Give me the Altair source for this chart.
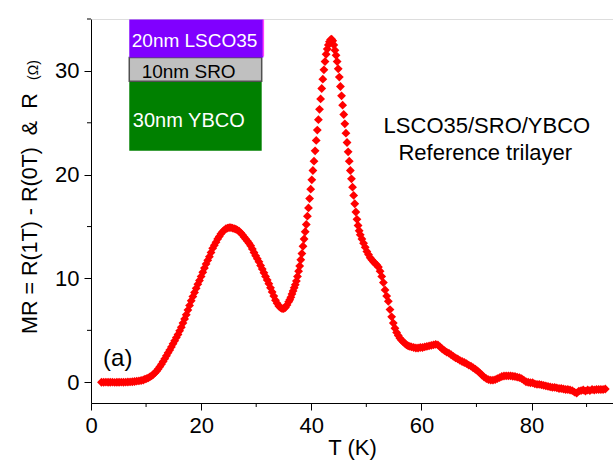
import altair as alt
import pandas as pd

# Magnetoresistance readings, (temperature in K, MR in ohm)
flat_low = [
    (1.9, 0.0), (2.3, 0.0), (2.7, 0.01), (3.1, 0.0), (3.5, 0.0), (3.9, 0.01),
    (4.3, -0.02), (4.7, 0.0), (5.1, 0.0), (5.5, 0.01), (5.9, 0.0), (6.3, 0.01),
    (6.7, 0.02), (7.1, 0.03), (7.5, 0.05), (7.9, 0.07), (8.3, 0.1), (8.7, 0.13),
    (9.1, 0.17), (9.5, 0.22), (9.8, 0.3),
]
first_peak = [
    (10.1, 0.35), (10.4, 0.42), (10.7, 0.52), (11.0, 0.62), (11.3, 0.75), (11.6, 0.9),
    (11.9, 1.07), (12.2, 1.27), (12.5, 1.5), (12.8, 1.74), (13.1, 2.0), (13.4, 2.27),
    (13.7, 2.55), (14.0, 2.83), (14.3, 3.1), (14.6, 3.4), (14.9, 3.7), (15.2, 4.0),
    (15.5, 4.3), (15.8, 4.6), (16.1, 4.95), (16.4, 5.3), (16.7, 5.7), (17.0, 6.1),
    (17.3, 6.5), (17.6, 6.95), (17.9, 7.4), (18.2, 7.85), (18.5, 8.25), (18.8, 8.65),
    (19.1, 9.05), (19.4, 9.45), (19.7, 9.8), (20.0, 10.2), (20.3, 10.6), (20.6, 11.0),
    (20.9, 11.4), (21.2, 11.75), (21.5, 12.1), (21.8, 12.5), (22.1, 12.9), (22.4, 13.2),
    (22.7, 13.5), (23.0, 13.8), (23.3, 14.05), (23.6, 14.3), (23.9, 14.5), (24.2, 14.65),
    (24.5, 14.8), (24.8, 14.85), (25.1, 14.9), (25.4, 14.9), (25.7, 14.85), (26.0, 14.8),
    (26.3, 14.75), (26.6, 14.65), (26.9, 14.55), (27.2, 14.4), (27.5, 14.2), (27.8, 14.0),
    (28.1, 13.8), (28.4, 13.6), (28.7, 13.4), (29.0, 13.15), (29.3, 12.85), (29.6, 12.5),
    (29.9, 12.2), (30.2, 11.9), (30.5, 11.6), (30.8, 11.25), (31.1, 10.9), (31.4, 10.55),
    (31.7, 10.2), (32.0, 9.85), (32.3, 9.5), (32.6, 9.1), (32.9, 8.7), (33.2, 8.3),
    (33.5, 7.9), (33.8, 7.6), (34.1, 7.35), (34.4, 7.2), (34.7, 7.1), (35.0, 7.1),
    (35.3, 7.2), (35.6, 7.45), (35.9, 7.75),
]
main_peak = [
    (36.1, 7.95), (36.3, 8.2), (36.5, 8.5), (36.7, 8.8), (36.9, 9.1), (37.1, 9.4),
    (37.3, 9.75), (37.5, 10.2), (37.7, 10.7), (37.9, 11.2), (38.1, 11.8), (38.3, 12.4),
    (38.5, 13.1), (38.7, 13.8), (38.9, 14.5), (39.1, 15.2), (39.3, 16.0), (39.5, 16.8),
    (39.7, 17.7), (39.9, 18.6), (40.1, 19.5), (40.3, 20.4), (40.5, 21.3), (40.7, 22.3),
    (40.9, 23.3), (41.1, 24.3), (41.3, 25.3), (41.5, 26.3), (41.7, 27.3), (41.9, 28.3),
    (42.1, 29.2), (42.3, 30.1), (42.5, 30.9), (42.7, 31.6), (42.9, 32.1), (43.1, 32.5),
    (43.3, 32.8), (43.5, 33.0), (43.7, 33.05), (43.9, 32.9), (44.1, 32.5), (44.3, 32.0),
    (44.5, 31.5), (44.7, 30.9), (44.9, 30.2), (45.1, 29.4), (45.3, 28.5), (45.5, 27.6),
    (45.7, 26.7), (45.9, 25.8), (46.1, 24.9), (46.3, 24.0), (46.5, 23.1), (46.7, 22.2),
    (46.9, 21.3), (47.1, 20.4), (47.3, 19.6), (47.5, 18.8), (47.7, 18.0), (47.9, 17.2),
    (48.1, 16.4), (48.3, 15.7), (48.5, 15.1), (48.7, 14.6), (48.9, 14.2),
]
shoulder = [
    (49.2, 13.8), (49.5, 13.4), (49.8, 13.0), (50.1, 12.6), (50.4, 12.3), (50.7, 12.0),
    (51.0, 11.8), (51.3, 11.6), (51.6, 11.45), (51.9, 11.3), (52.2, 11.1), (52.5, 10.7),
    (52.8, 10.2), (53.1, 9.6), (53.4, 8.9), (53.7, 8.3), (54.0, 7.8), (54.3, 7.0),
    (54.6, 6.3), (54.9, 5.7), (55.2, 5.2), (55.5, 4.8), (55.8, 4.5), (56.1, 4.25),
    (56.4, 4.05), (56.7, 3.9), (57.0, 3.75), (57.3, 3.6), (57.6, 3.5), (57.9, 3.45),
    (58.2, 3.4),
]
high_tail = [
    (58.6, 3.35), (59.0, 3.3), (59.4, 3.3), (59.8, 3.35), (60.2, 3.35), (60.6, 3.4),
    (61.0, 3.45), (61.4, 3.5), (61.8, 3.55), (62.2, 3.6), (62.6, 3.65), (63.0, 3.6),
    (63.4, 3.4), (63.8, 3.2), (64.2, 3.05), (64.6, 2.9), (65.0, 2.8), (65.4, 2.65),
    (65.8, 2.5), (66.2, 2.35), (66.6, 2.25), (67.0, 2.1), (67.4, 2.0), (67.8, 1.9),
    (68.2, 1.8), (68.6, 1.65), (69.0, 1.55), (69.4, 1.4), (69.8, 1.25), (70.2, 1.1),
    (70.6, 0.9), (71.0, 0.7), (71.4, 0.5), (71.8, 0.35), (72.2, 0.25), (72.6, 0.2),
    (73.0, 0.2), (73.4, 0.25), (73.8, 0.35), (74.2, 0.45), (74.6, 0.55), (75.0, 0.6),
    (75.4, 0.62), (75.8, 0.62), (76.2, 0.62), (76.6, 0.58), (77.0, 0.55), (77.4, 0.5),
    (77.8, 0.45), (78.2, 0.35), (78.6, 0.2), (79.0, 0.05), (79.4, 0.0), (79.8, -0.05),
    (80.2, -0.05), (80.6, -0.15), (81.0, -0.2), (81.4, -0.2), (81.8, -0.25), (82.2, -0.3),
    (82.6, -0.35), (83.0, -0.4), (83.4, -0.45), (83.8, -0.5), (84.2, -0.5), (84.6, -0.55),
    (85.0, -0.6), (85.4, -0.6), (85.8, -0.65), (86.2, -0.7), (86.6, -0.7), (87.0, -0.75),
    (87.4, -0.8), (87.8, -0.95), (88.2, -1.05), (88.6, -0.85), (89.0, -0.8), (89.4, -0.75),
    (89.8, -0.85), (90.2, -0.75), (90.6, -0.8), (91.0, -0.7), (91.4, -0.75), (91.8, -0.7),
    (92.2, -0.7), (92.6, -0.7), (93.0, -0.7), (93.4, -0.65),
]

major_x = [0, 20, 40, 60, 80]
minor_x = [10, 30, 50, 70, 90]
major_y = [0, 10, 20, 30]
minor_y = [5, 15, 25, 35]

FONT = "Liberation Sans"
W, H = 522, 384

points = flat_low + first_peak + main_peak + shoulder + high_tail
df = pd.DataFrame(points, columns=["T", "MR"])

x_scale = alt.Scale(domain=[0, 94.8], nice=False, zero=False)
y_scale = alt.Scale(domain=[-2, 35], nice=False, zero=False)

axis_style = dict(
    grid=False, domainColor="black", domainWidth=1, tickColor="black", tickWidth=1,
    tickSize=7, labelFont=FONT, labelFontSize=22, labelColor="black", labelPadding=5,
    labelOverlap=False, labelFlush=False,
)
x_axis = alt.Axis(values=major_x, title="T (K)", titleFont=FONT, titleFontSize=22,
                  titleFontWeight="normal", titleColor="black", titlePadding=1, **axis_style)
y_axis = alt.Axis(values=major_y, title=None, **axis_style)


def xq(field):
    return alt.X(field, type="quantitative", scale=x_scale, axis=x_axis)


def yq(field):
    return alt.Y(field, type="quantitative", scale=y_scale, axis=y_axis)


scatter = alt.Chart(df).mark_point(
    shape="diamond", filled=True, size=78, color="#ff0000", opacity=1, strokeWidth=0
).encode(x=xq("T"), y=yq("MR"))

# minor ticks
minor_x_ticks = alt.Chart(pd.DataFrame({"T": minor_x})).mark_rule(
    color="black", strokeWidth=1
).encode(x=xq("T"), y=alt.value(H), y2=alt.value(H + 4))
minor_y_ticks = alt.Chart(pd.DataFrame({"MR": minor_y})).mark_rule(
    color="black", strokeWidth=1
).encode(y=yq("MR"), x=alt.value(0), x2=alt.value(-4))


# stack diagram of the trilayer
def layer_box(t0, t1, m0, m1, fill, stroke=None):
    mark = dict(fill=fill, opacity=1)
    if stroke:
        mark.update(stroke=stroke, strokeWidth=1.5)
    return alt.Chart(pd.DataFrame({"T": [t0], "T2": [t1], "MR": [m0], "MR2": [m1]})).mark_rect(
        **mark
    ).encode(x=xq("T"), x2="T2", y=yq("MR"), y2="MR2")


box_lsco = layer_box(6.95, 31.3, 31.3, 34.95, "#8000ff")
box_edge = alt.Chart(pd.DataFrame({"T": [31.3], "MR": [31.4], "MR2": [34.95]})).mark_rule(
    color="#ff40ff", strokeWidth=1.5
).encode(x=xq("T"), y=yq("MR"), y2="MR2")
box_sro = layer_box(6.95, 31.0, 29.0, 31.3, "#c0c0c0", stroke="#505050")
box_ybco = layer_box(6.95, 31.0, 22.3, 29.0, "#008000")


def label(t, mr, text, color="black", size=21, align="left"):
    return alt.Chart(pd.DataFrame({"T": [t], "MR": [mr], "label": [text]})).mark_text(
        font=FONT, fontSize=size, color=color, align=align, baseline="alphabetic"
    ).encode(x=xq("T"), y=yq("MR"), text="label:N")


texts = [
    label(7.4, 32.3, "20nm LSCO35", color="white", size=19),
    label(9.2, 29.3, "10nm SRO", color="black", size=19),
    label(7.6, 24.6, "30nm YBCO", color="white", size=20),
    label(71.9, 24.0, "LSCO35/SRO/YBCO", size=22, align="center"),
    label(71.6, 21.4, "Reference trilayer", size=22, align="center"),
    label(2.2, 1.6, "(a)", size=24),
]

# y-axis title drawn as rotated text so the unit can be set smaller
y_title = alt.Chart(pd.DataFrame({"label": ["MR = R(1T) - R(0T)\u00a0 &\u00a0 R"]})).mark_text(
    font=FONT, fontSize=21.5, color="black", angle=270, align="left", baseline="alphabetic"
).encode(x=alt.value(-54), y=alt.value(315), text="label:N")
y_unit = alt.Chart(pd.DataFrame({"label": ["(\u03a9)"]})).mark_text(
    font=FONT, fontSize=14, color="black", angle=270, align="left", baseline="alphabetic"
).encode(x=alt.value(-53), y=alt.value(61), text="label:N")

chart = alt.layer(
    box_ybco, box_sro, box_lsco, box_edge,
    minor_x_ticks, minor_y_ticks,
    scatter,
    *texts,
    y_title, y_unit,
).properties(
    width=W, height=H,
    padding={"left": 91, "top": 19, "right": 0, "bottom": 64},
    autosize=alt.AutoSizeParams(type="none"),
).configure_view(stroke=None).configure(background="white")

chart.save("out.html", embed_options={"renderer": "svg", "actions": False})
